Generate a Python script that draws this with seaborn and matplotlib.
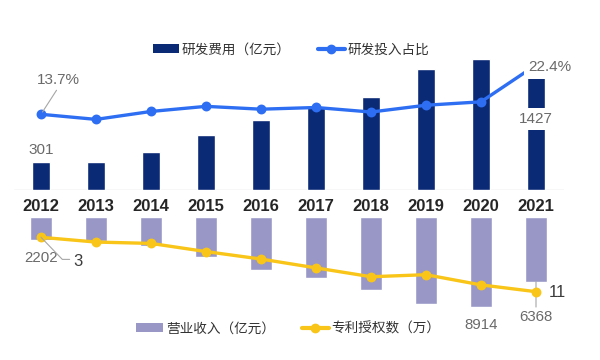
import numpy as np
import pandas as pd
import matplotlib
matplotlib.use("Agg")
import matplotlib.pyplot as plt
import seaborn as sns
from matplotlib.patches import Patch
from matplotlib.lines import Line2D

# ---------------- data ----------------
years = ["2012", "2013", "2014", "2015", "2016", "2017", "2018", "2019", "2020", "2021"]
rd_cost = [301, 307, 408, 596, 764, 897, 1015, 1317, 1419, 1427]          # 研发费用（亿元）
rd_ratio = [13.7, 12.8, 14.2, 15.1, 14.6, 14.9, 14.1, 15.3, 15.9, 22.4]    # 研发投入占比 %
revenue = [2202, 2390, 2882, 3950, 5216, 6036, 7212, 8588, 8914, 6368]     # 营业收入（亿元）
patents = [3, 3.7, 3.9, 5.1, 6.2, 7.5, 8.8, 8.5, 10, 11]                   # 专利授权数（万）

NAVY = "#0a2a76"
BLUE = "#2d6ef3"
LAVENDER = "#9897c6"
YELLOW = "#f8c518"
LABEL_GRAY = "#6a6a6a"
DARK = "#3c3c3c"

sns.set_style("white")
plt.rcParams["font.family"] = ["Liberation Sans", "Noto Sans CJK SC", "DejaVu Sans"]

W, H = 600, 360
fig = plt.figure(figsize=(6, 3.6), dpi=100)


def px_axes(left, top, right, bottom):
    return fig.add_axes([left / W, 1 - bottom / H, (right - left) / W, (bottom - top) / H])


ax_top = px_axes(13.5, 40, 563.5, 190)
ax_bot = px_axes(13.5, 217.3, 563.5, 345)

# ---------------- top panel ----------------
sns.barplot(x=years, y=rd_cost, ax=ax_top, color=NAVY, width=0.315, saturation=1)
ax_top2 = ax_top.twinx()
sns.pointplot(x=years, y=rd_ratio, ax=ax_top2, color=BLUE, markers="o",
              linestyles="-", markersize=5.3, linewidth=2.4, errorbar=None)

# ---------------- bottom panel ----------------
sns.barplot(x=years, y=revenue, ax=ax_bot, color=LAVENDER, width=0.4, saturation=1)
ax_bot2 = ax_bot.twinx()
sns.pointplot(x=years, y=patents, ax=ax_bot2, color=YELLOW, markers="o",
              linestyles="-", markersize=5.3, linewidth=2.4, errorbar=None)

for ax in (ax_top, ax_top2, ax_bot, ax_bot2):
    ax.set_xlim(-0.5, len(years) - 0.5)
    ax.set_yticks([])
    ax.set_ylabel("")
    ax.set_xlabel("")
    for s in ax.spines.values():
        s.set_visible(False)
    ax.patch.set_visible(False)

ax_top.set_ylim(0, 1630)
ax_top2.set_ylim(0.34, 26.81)
ax_bot.set_ylim(12644, 0)
ax_bot2.set_ylim(18.84, 0.059)

ax_top.axhline(0, color="#d9d9d9", lw=1.0, zorder=0)

ax_top.set_xticks(range(len(years)))
ax_top.set_xticklabels(years, fontweight="bold", fontsize=12, color="#262626")
ax_top.tick_params(axis="x", length=0, pad=6.8)
ax_bot.set_xticks([])

# ---------------- data labels ----------------
ax_top.annotate(str(rd_cost[0]), xy=(0, rd_cost[0]), xytext=(0, 4), textcoords="offset points",
                ha="center", va="bottom", fontsize=11, color=LABEL_GRAY)
ax_top.annotate(str(rd_cost[-1]), xy=(9, rd_cost[-1]), xytext=(0, -43.4), textcoords="offset points",
                ha="center", va="center", fontsize=11, color=LABEL_GRAY,
                bbox=dict(boxstyle="square,pad=0.25", fc="white", ec="none"))

ax_top2.annotate(f"{rd_ratio[0]}%", xy=(0, rd_ratio[0]), xytext=(12.7, 24.7), textcoords="offset points",
                 ha="center", va="center", fontsize=11, color=LABEL_GRAY,
                 arrowprops=dict(arrowstyle="-", color="#a6a6a6", lw=0.8, relpos=(0.5, 0),
                                 shrinkA=0, shrinkB=2))
ax_top2.annotate(f"{rd_ratio[-1]}%", xy=(9, rd_ratio[-1]), xytext=(10, -1.7), textcoords="offset points",
                 ha="center", va="center", fontsize=11, color=LABEL_GRAY, zorder=10,
                 bbox=dict(boxstyle="square,pad=0.3", fc="white", ec="none"))

ax_bot.annotate(str(revenue[0]), xy=(0, revenue[0]), xytext=(0, -13.5), textcoords="offset points",
                ha="center", va="center", fontsize=10.8, color=LABEL_GRAY)
ax_bot.annotate(str(revenue[8]), xy=(8, revenue[8]), xytext=(0, -12.7), textcoords="offset points",
                ha="center", va="center", fontsize=10.8, color=LABEL_GRAY)
ax_bot.annotate(str(revenue[9]), xy=(9, revenue[9]), xytext=(0, -25.7), textcoords="offset points",
                ha="center", va="center", fontsize=10.8, color=LABEL_GRAY,
                arrowprops=dict(arrowstyle="-", color="#a6a6a6", lw=0.8, relpos=(0.5, 1),
                                shrinkA=0, shrinkB=0))

ax_bot2.annotate(f"{patents[0]:g}", xy=(0, patents[0]), xytext=(26.3, -17.2), textcoords="offset points",
                 ha="center", va="center", fontsize=12, color=DARK,
                 arrowprops=dict(arrowstyle="-", color="#a6a6a6", lw=0.8, relpos=(0, 0.62),
                                 connectionstyle="angle,angleA=0,angleB=-46,rad=0",
                                 shrinkA=0, shrinkB=0))
ax_bot2.annotate(f"{patents[-1]:g}", xy=(9, patents[-1]), xytext=(15.5, -0.5), textcoords="offset points",
                 ha="center", va="center", fontsize=12, color=DARK)

# ---------------- legends ----------------
leg_kw = dict(loc="center", ncol=2, frameon=False, fontsize=9.8, handlelength=1.95,
              handletextpad=0.2, columnspacing=2.0, labelcolor="#333333")
h_top = [Patch(facecolor=NAVY, edgecolor="none"),
         Line2D([], [], color=BLUE, lw=3, marker="o", ms=6)]
fig.legend(h_top, ["研发费用（亿元）", "研发投入占比"], bbox_to_anchor=(0.4848, 0.863), **leg_kw)
h_bot = [Patch(facecolor=LAVENDER, edgecolor="none"),
         Line2D([], [], color=YELLOW, lw=3, marker="o", ms=6)]
fig.legend(h_bot, ["营业收入（亿元）", "专利授权数（万）"], bbox_to_anchor=(0.4806, 0.088), **leg_kw)

fig.savefig("out.png", dpi=100)
